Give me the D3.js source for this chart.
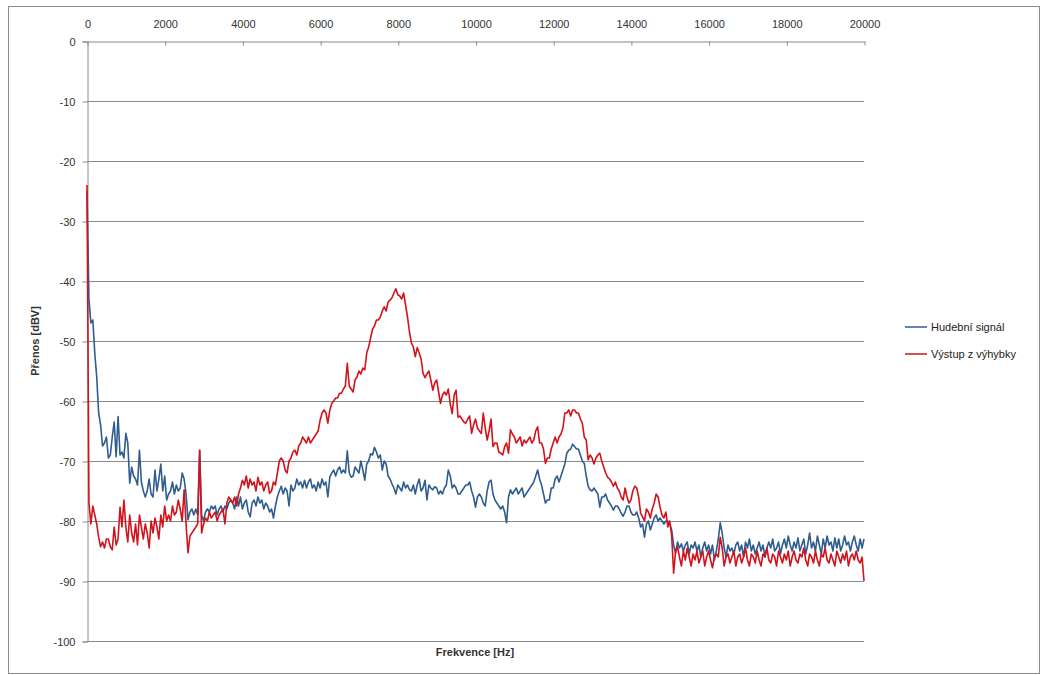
<!DOCTYPE html>
<html><head><meta charset="utf-8">
<script src="https://cdn.jsdelivr.net/npm/d3@7"></script>
<style>
html,body{margin:0;padding:0;background:#fff;}
text{font-family:"Liberation Sans","DejaVu Sans",sans-serif;}
</style></head>
<body><svg id="chart" width="1046" height="675"></svg>
<script>
// frequency step between samples (Hz)
const freqStep = 50;
const xTicks = [0,2000,4000,6000,8000,10000,12000,14000,16000,18000,20000];
const yTicks = [0,-10,-20,-30,-40,-50,-60,-70,-80,-90,-100];
const seriesNames = ["Hudební signál","Výstup z výhybky"];

const hudebni = [
-25,-43,-47,-46.5,-52,-56,-62,-64,-67.5,-67,
-66,-69.5,-69,-66,-63.5,-69.3,-62.6,-69,-68.5,-69.5,
-65.4,-67,-73.7,-71,-72.5,-73,-74,-68.2,-73.5,-75,
-76,-75,-73,-75.5,-76,-71.5,-75,-73,-70.5,-75,
-72.5,-76.5,-75.5,-75,-73.5,-75.5,-74,-75,-74.5,-72,
-73,-75.5,-79.8,-78.5,-78,-79,-78,-79,-68.2,-79,
-80,-78.5,-78,-78.5,-77.5,-78,-77.5,-79,-78,-77.5,
-78.5,-77.5,-78,-77,-76.5,-77,-78,-76,-77.5,-76,
-78,-77,-76.5,-78.5,-79.3,-77,-76.5,-77.5,-76,-77,
-76.5,-78,-77,-77.5,-78.5,-78,-79.5,-77.5,-76,-75,
-74.2,-75.5,-74.5,-75,-77.5,-74,-75,-74.5,-73,-74,
-73.5,-74.5,-73.2,-74.5,-73.5,-73,-74.5,-74,-75,-73.5,
-74.5,-73,-74,-73.5,-76,-72.7,-72,-71.5,-72.5,-71.5,
-71,-72,-71.5,-72,-68.3,-72,-72.7,-72.5,-71,-71.5,
-72,-70,-71.5,-73.2,-70.5,-70,-68.8,-69,-67.7,-68.5,
-69.5,-69,-71.5,-70,-70.5,-72.5,-73,-73.8,-74.5,-75.5,
-74,-74.5,-75,-73.5,-74.5,-74,-74.8,-75,-74,-75.5,
-74,-73,-75,-74.5,-73.2,-76.5,-74,-74.5,-74.8,-74.3,
-74.5,-75.5,-75,-75.5,-74.5,-74,-71.5,-72.5,-74.5,-74,
-74.5,-75.5,-75.5,-75,-74.5,-74,-74,-73.5,-75,-76,
-77.7,-76,-75.5,-76,-77,-77.5,-75,-73.5,-73.2,-75.5,
-76.5,-77,-77.5,-78,-77.5,-78.5,-80.3,-76,-74.8,-75.5,
-75,-74.5,-75.5,-75,-74.5,-76,-75.5,-75,-74.5,-74,
-73.5,-72.5,-71.5,-73,-74,-75.5,-77,-76.5,-76.5,-74.5,
-74.5,-73,-72.5,-73.5,-72.5,-71.5,-70.5,-68.7,-68.2,-68,
-67.2,-67.6,-68,-68,-69,-70,-70.4,-72.5,-74.2,-74.8,
-75,-74.5,-75,-75.5,-77.7,-76,-76,-75.5,-76.5,-77,
-77.5,-78.2,-77.5,-77.5,-78,-78.7,-79.2,-78.5,-77.5,-77.5,
-78.5,-79,-79,-78.5,-79.5,-81,-80.5,-82.7,-80.5,-80,
-81.5,-80.5,-79.5,-79,-80,-79.5,-80,-80.5,-80,-80,
-80.5,-81.5,-84,-85.4,-83.5,-84.5,-83.8,-85,-84,-83.5,
-85.5,-84,-84.5,-83.5,-85,-84,-86,-84.5,-83.5,-85,
-84,-85.5,-84,-86.5,-85,-83,-80.3,-82,-84.5,-86,
-84,-85,-84.5,-85.5,-84,-83.5,-85,-84,-86,-83.5,
-84.5,-83,-85,-84,-85.5,-84.5,-83.5,-85,-84,-86,
-84.5,-83.5,-84.5,-83,-85,-84.5,-83.5,-85.5,-84,-83,
-84.5,-82.5,-84,-85,-83.5,-84.5,-82.8,-85,-84,-83,
-85.5,-84,-82,-84.5,-83.5,-85,-82.5,-84,-85.5,-83,
-84.5,-82.5,-84,-83.5,-85,-82.8,-84.5,-83,-85,-84,
-82.5,-84,-83.5,-85,-83.5,-82.5,-84,-85,-83,-84.5,
-83
];

const vystup = [
-24,-77,-80.5,-77.5,-79,-80.5,-82.7,-84.3,-83.5,-84.5,
-83,-83,-84.3,-84.8,-81,-84,-83,-77.7,-81,-76.5,
-81,-83.5,-79,-82,-83.5,-80.5,-84,-79,-81,-83,
-80.5,-82,-84.5,-80,-82,-79.5,-81,-83,-79,-81,
-77.5,-80,-79,-80,-77.5,-79,-78.5,-76.5,-78,-80,
-74.8,-80.5,-85.3,-82.5,-82,-81.5,-81,-80.5,-68.2,-82,
-80.5,-79.5,-80,-78.5,-79.5,-79,-78.5,-80,-79,-78.5,
-78,-80.5,-77,-76,-76.5,-77,-76,-77.5,-75.5,-74.5,
-73.2,-74,-72.5,-74.5,-73,-74,-73.5,-75,-72.7,-74,
-73.5,-75,-74,-73.5,-75.4,-75,-73.5,-74,-72,-70,
-69.5,-70,-71.5,-72,-70,-69.5,-68.5,-68.2,-69,-67.5,
-67,-66,-66.5,-67,-66,-67,-66.5,-66,-65.5,-65,
-63.2,-62,-61.5,-62,-63.7,-61.5,-60.4,-60,-59.5,-59.5,
-58.7,-58.7,-58,-57.5,-53.7,-57.5,-58,-58.5,-56.5,-56,
-55,-55.5,-54.5,-54.8,-52,-51,-49.5,-48,-47.5,-46.5,
-46.5,-46,-45,-44.3,-45,-43.5,-43.2,-42.8,-42,-41.3,
-42.3,-42.5,-43,-42,-44,-46,-48.5,-50.3,-51,-52.6,
-51.1,-52,-53,-55.4,-56.1,-55.5,-55,-56.5,-58.2,-57,
-56.5,-58.5,-60.4,-59,-58.5,-59,-58,-60.5,-62.1,-59,
-58.2,-62.7,-62.5,-63,-63.5,-63.7,-63,-62.5,-65.4,-64,
-63,-64.5,-65,-65.4,-62,-64.5,-66.5,-65,-63,-67.6,
-67,-67,-68.5,-68.7,-69,-67.6,-67,-68.7,-64.8,-65.5,
-66,-67,-66.5,-66,-67.5,-66.5,-67,-66.5,-66,-67,
-66.5,-65,-64.3,-67,-67,-68,-70.4,-69.5,-69.5,-68,
-67,-66,-67,-66,-65.5,-64.5,-62,-62,-61.5,-62.5,
-61.5,-61.5,-62,-62,-63,-63.7,-66,-66.5,-69.8,-69,
-69.5,-70.5,-69.5,-69,-68.7,-70,-71,-72,-72.7,-73,
-73.5,-74.2,-73.5,-74.5,-75,-76,-76.5,-74.5,-76,-77,
-76.5,-75,-74.2,-74.5,-76,-78.7,-79.3,-80,-78,-78.5,
-79.5,-78,-77,-75.5,-76,-77.7,-79,-79.5,-78.5,-81,
-80,-82.5,-88.7,-85,-84.3,-86,-87.5,-85,-86.5,-84.5,
-86,-87.5,-85.5,-86.5,-85,-87,-86,-85,-87.5,-86,
-85,-86.5,-87.8,-86,-85.5,-86,-82.7,-84.5,-87.5,-86,
-85.5,-87,-86,-85,-87.5,-86,-85.5,-87,-86,-84.5,
-86.5,-87.5,-85.5,-86,-87,-85,-86.5,-87.5,-85.5,-86,
-84.5,-86.5,-87,-85.5,-86,-87.5,-85,-86,-87,-85.5,
-86.5,-85,-87.5,-86,-85,-86.5,-87,-85.5,-86,-84.5,
-86.5,-87.5,-85.5,-86,-87,-85,-86.5,-87.5,-85.5,-86,
-84.5,-86.5,-87,-85.5,-86.5,-87.5,-85,-86,-87,-85.5,
-86.5,-85,-87.5,-86,-85.5,-86.5,-85,-86.5,-87,-86,
-90
];

const svg = d3.select("#chart");
const x = d3.scaleLinear().domain([0, 20000]).range([87, 864]);
const y = d3.scaleLinear().domain([-100, 0]).range([641, 41]);
const fmt = d => String(d);

// outer border
svg.append("rect").attr("x", 8.5).attr("y", 6.5).attr("width", 1031).attr("height", 667)
  .attr("fill", "#fff").attr("stroke", "#8c8c8c").attr("stroke-width", 1);

// gridlines
svg.append("g").selectAll("line").data(yTicks.filter(d => d !== 0)).join("line")
  .attr("x1", x(0)).attr("x2", x(20000))
  .attr("y1", d => Math.round(y(d)) + 0.5).attr("y2", d => Math.round(y(d)) + 0.5)
  .attr("stroke", "#8a8a8a").attr("stroke-width", 1);

// y axis
const yAxis = d3.axisLeft(y).tickValues(yTicks).tickSize(5).tickPadding(7).tickFormat(fmt);
const gy = svg.append("g").attr("transform", `translate(${x(0)+0.5},0.5)`).call(yAxis);
gy.select(".domain").attr("stroke", "#8a8a8a");
gy.selectAll(".tick line").attr("stroke", "#8a8a8a");
gy.selectAll(".tick text").attr("fill", "#333").style("font-size", "11px")
  .style("font-family", "'Liberation Sans','DejaVu Sans',sans-serif");

// x axis at top
const xAxis = d3.axisTop(x).tickValues(xTicks).tickSizeInner(-4).tickSizeOuter(0).tickPadding(14).tickFormat(fmt);
const gx = svg.append("g").attr("transform", `translate(0.5,${y(0)+0.5})`).call(xAxis);
gx.select(".domain").attr("stroke", "#8a8a8a");
gx.selectAll(".tick line").attr("stroke", "#8a8a8a");
gx.selectAll(".tick text").attr("fill", "#333").style("font-size", "11px")
  .style("font-family", "'Liberation Sans','DejaVu Sans',sans-serif");

// lines
const line = d3.line().x((d, i) => x(i * freqStep)).y(d => y(d));
svg.append("path").datum(hudebni).attr("d", line).attr("fill", "none")
  .attr("stroke", "#2F5D90").attr("stroke-width", 1.6).attr("stroke-linejoin", "round");
svg.append("path").datum(vystup).attr("d", line).attr("fill", "none")
  .attr("stroke", "#D3131C").attr("stroke-width", 1.6).attr("stroke-linejoin", "round");

// axis titles
svg.append("text").attr("x", 475).attr("y", 656).attr("text-anchor", "middle")
  .style("font-size", "11px").style("font-weight", "bold").attr("fill", "#333").text("Frekvence [Hz]");
svg.append("text").attr("transform", "translate(39,341) rotate(-90)").attr("text-anchor", "middle")
  .style("font-size", "11px").style("font-weight", "bold").attr("fill", "#333").text("Přenos [dBV]");

// legend
const colors = ["#2F5D90", "#D3131C"];
const lg = svg.append("g").selectAll("g").data(seriesNames).join("g")
  .attr("transform", (d, i) => `translate(905,${327 + i * 27})`);
lg.append("line").attr("x1", 0).attr("x2", 22).attr("y1", 0).attr("y2", 0)
  .attr("stroke", (d, i) => colors[i]).attr("stroke-width", 1.5);
lg.append("text").attr("x", 26).attr("y", 4).style("font-size", "11px").attr("fill", "#222").text(d => d);
</script></body></html>
